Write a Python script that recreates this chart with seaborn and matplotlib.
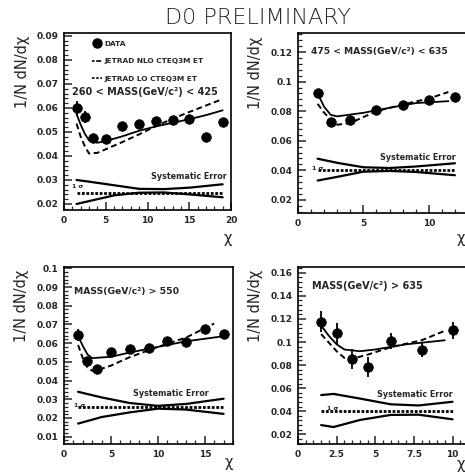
import matplotlib
matplotlib.use("Agg")
import matplotlib.pyplot as plt
from matplotlib.lines import Line2D
from matplotlib.ticker import MultipleLocator
import seaborn as sns
import pandas as pd

sns.set_style("ticks")
plt.rcParams['font.family'] = ['DejaVu Sans']

TITLE = "D0 PRELIMINARY"
YLABEL = "1/N dN/dχ"
XLABEL = "χ"
SYS_TEXT = "Systematic Error"
SIGMA_TEXT = "1 σ"
LEG_LABELS = ["DATA", "JETRAD NLO CTEQ3M ET", "JETRAD LO CTEQ3M ET"]

# ---------------- Panel 1: 260 < M < 425
p1_label = "260 < MASS(GeV/c²) < 425"
p1_chi = [1.5, 2.5, 3.5, 5, 7, 9, 11, 13, 15, 17, 19]
p1_y = [0.0600, 0.0564, 0.0474, 0.0470, 0.0525, 0.0533, 0.0547, 0.0549, 0.0553, 0.0481, 0.0541]
p1_err = [0.0028, 0.0025, 0.0018, 0.0012, 0.0012, 0.0012, 0.0012, 0.0012, 0.0012, 0.0012, 0.0012]
p1_nlo_x = [1.5, 2, 2.5, 3, 4, 5, 7, 9, 11, 13, 15, 17, 19]
p1_nlo_y = [0.0575, 0.0530, 0.0492, 0.0465, 0.0455, 0.0462, 0.0482, 0.0505, 0.0523, 0.0538, 0.0553, 0.0570, 0.0590]
p1_lo_x = [1.5, 2, 2.5, 3, 4, 5, 7, 9, 11, 13, 15, 17, 19]
p1_lo_y = [0.0535, 0.0480, 0.0440, 0.0410, 0.0413, 0.0428, 0.0458, 0.0490, 0.0524, 0.0555, 0.0583, 0.0610, 0.0637]
p1_sys_x = [1.5, 3, 6, 9, 12, 15, 19]
p1_sys_up = [0.0300, 0.0293, 0.0278, 0.0263, 0.0262, 0.0268, 0.0282]
p1_sys_lo = [0.0200, 0.0212, 0.0236, 0.0247, 0.0248, 0.0240, 0.0228]
p1_sys_c = 0.0247

# ---------------- Panel 2: 475 < M < 635
p2_label = "475 < MASS(GeV/c²) < 635"
p2_chi = [1.5, 2.5, 4, 6, 8, 10, 12]
p2_y = [0.0925, 0.0730, 0.0743, 0.0805, 0.0840, 0.0877, 0.0895]
p2_err = [0.0015, 0.0012, 0.0012, 0.0012, 0.0012, 0.0012, 0.0012]
p2_nlo_x = [1.5, 2, 2.5, 3, 5, 7, 9, 11.5]
p2_nlo_y = [0.0920, 0.0830, 0.0775, 0.0765, 0.0789, 0.0823, 0.0855, 0.0868]
p2_lo_x = [1.5, 2, 2.5, 3, 4, 6, 8, 10, 11.5]
p2_lo_y = [0.0850, 0.0790, 0.0743, 0.0708, 0.0720, 0.0800, 0.0845, 0.0886, 0.0930]
p2_sys_x = [1.5, 3, 5, 7, 9, 12]
p2_sys_up = [0.0478, 0.0450, 0.0420, 0.0415, 0.0425, 0.0447]
p2_sys_lo = [0.0330, 0.0355, 0.0390, 0.0395, 0.0388, 0.0366]
p2_sys_c = 0.0400

# ---------------- Panel 3: M > 550
p3_label = "MASS(GeV/c²) > 550"
p3_chi = [1.5, 2.5, 3.5, 5, 7, 9, 11, 13, 15, 17]
p3_y = [0.0644, 0.0504, 0.0462, 0.0551, 0.0569, 0.0572, 0.0611, 0.0604, 0.0674, 0.0649]
p3_err = [0.0030, 0.0022, 0.0020, 0.0015, 0.0015, 0.0015, 0.0015, 0.0015, 0.0015, 0.0015]
p3_nlo_x = [1.5, 2, 2.5, 3, 5, 7, 10, 13, 17]
p3_nlo_y = [0.0640, 0.0585, 0.0540, 0.0520, 0.0527, 0.0550, 0.0580, 0.0610, 0.0637]
p3_lo_x = [1.5, 2, 2.5, 3, 3.5, 5, 7, 10, 13, 16]
p3_lo_y = [0.0590, 0.0520, 0.0470, 0.0452, 0.0455, 0.0480, 0.0525, 0.0580, 0.0630, 0.0705]
p3_sys_x = [1.5, 4, 7, 10, 13, 17]
p3_sys_up = [0.0340, 0.0310, 0.0280, 0.0265, 0.0275, 0.0303]
p3_sys_lo = [0.0170, 0.0205, 0.0230, 0.0250, 0.0245, 0.0222]
p3_sys_c = 0.0257

# ---------------- Panel 4: M > 635
p4_label = "MASS(GeV/c²) > 635"
p4_chi = [1.5, 2.5, 3.5, 4.5, 6, 8, 10]
p4_y = [0.1177, 0.1075, 0.0852, 0.0785, 0.1006, 0.0930, 0.1100]
p4_err = [0.0090, 0.0090, 0.0090, 0.0085, 0.0070, 0.0060, 0.0070]
p4_nlo_x = [1.5, 2, 2.5, 3, 4, 5, 7, 9.5]
p4_nlo_y = [0.1141, 0.1053, 0.0980, 0.0935, 0.0920, 0.0935, 0.0980, 0.1015]
p4_lo_x = [1.5, 2, 2.5, 3, 3.5, 4.5, 6, 8, 9.5]
p4_lo_y = [0.1068, 0.0994, 0.0920, 0.0862, 0.0855, 0.0890, 0.0955, 0.1015, 0.1097]
p4_sys_x = [1.5, 2.3, 4, 6, 7.8, 10]
p4_sys_up = [0.0540, 0.0550, 0.0510, 0.0460, 0.0450, 0.0482]
p4_sys_lo = [0.0280, 0.0263, 0.0324, 0.0368, 0.0370, 0.0330]
p4_sys_c = 0.0405

W, H = 465, 472
fig = plt.figure(figsize=(W / 100, H / 100), dpi=100)


def box(l, t, r, b):
    return [l / W, 1 - b / H, (r - l) / W, (b - t) / H]


panels = [
    dict(rect=box(64, 33, 231, 210), xlim=(0, 20), ylim=(0.0175, 0.0912), xmaj=5, xmin=1,
         ymaj=0.01, ymin=0.002, chi=p1_chi, y=p1_y, err=p1_err, nlo=(p1_nlo_x, p1_nlo_y),
         lo=(p1_lo_x, p1_lo_y), sys=(p1_sys_x, p1_sys_up, p1_sys_lo, p1_sys_c), label=p1_label,
         label_xy=(0.045, 0.665), label_fs=7.0, sys_xy=(0.976, 0.19), sig_xy=(0.05, 0.135),
         legend=True, yfmt="{:.2f}"),
    dict(rect=box(298, 33, 468, 213), xlim=(0, 13), ylim=(0.011, 0.133), xmaj=5, xmin=1,
         ymaj=0.02, ymin=0.004, chi=p2_chi, y=p2_y, err=p2_err, nlo=(p2_nlo_x, p2_nlo_y),
         lo=(p2_lo_x, p2_lo_y), sys=(p2_sys_x, p2_sys_up, p2_sys_lo, p2_sys_c), label=p2_label,
         label_xy=(0.075, 0.895), label_fs=6.6, sys_xy=(0.93, 0.31), sig_xy=(0.08, 0.25),
         legend=False, yfmt="{:g}"),
    dict(rect=box(64, 267, 233, 444), xlim=(0, 18), ylim=(0.0061, 0.1007), xmaj=5, xmin=1,
         ymaj=0.01, ymin=0.002, chi=p3_chi, y=p3_y, err=p3_err, nlo=(p3_nlo_x, p3_nlo_y),
         lo=(p3_lo_x, p3_lo_y), sys=(p3_sys_x, p3_sys_up, p3_sys_lo, p3_sys_c), label=p3_label,
         label_xy=(0.06, 0.86), label_fs=6.7, sys_xy=(0.855, 0.285), sig_xy=(0.06, 0.22),
         legend=False, yfmt="{:g}"),
    dict(rect=box(298, 267, 468, 444), xlim=(0, 11), ylim=(0.0116, 0.165), xmaj=2.5, xmin=0.5,
         ymaj=0.02, ymin=0.004, chi=p4_chi, y=p4_y, err=p4_err, nlo=(p4_nlo_x, p4_nlo_y),
         lo=(p4_lo_x, p4_lo_y), sys=(p4_sys_x, p4_sys_up, p4_sys_lo, p4_sys_c), label=p4_label,
         label_xy=(0.08, 0.895), label_fs=7.0, sys_xy=(0.91, 0.277), sig_xy=(0.17, 0.2),
         legend=False, yfmt="{:g}"),
]

TF = dict(family="DejaVu Sans", weight="bold")

for p in panels:
    ax = fig.add_axes(p["rect"])
    x0, x1 = p["xlim"]
    sx, up, lo, c = p["sys"]
    sns.lineplot(x=sx, y=up, ax=ax, color="black", lw=1.6, sort=False)
    sns.lineplot(x=sx, y=lo, ax=ax, color="black", lw=1.6, sort=False)
    sns.lineplot(x=[sx[0], sx[-1]], y=[c, c], ax=ax, color="black", lw=2.0,
                 linestyle=(0, (1, 0.6)), sort=False)
    sns.lineplot(x=p["nlo"][0], y=p["nlo"][1], ax=ax, color="black", lw=1.3, sort=False)
    sns.lineplot(x=p["lo"][0], y=p["lo"][1], ax=ax, color="black", lw=1.4,
                 linestyle=(0, (3, 1.8)), sort=False)
    ax.errorbar(p["chi"], p["y"], yerr=p["err"], fmt="none", ecolor="black", elinewidth=1.3)
    sns.scatterplot(x=p["chi"], y=p["y"], ax=ax, color="black", s=48, edgecolor="black",
                    linewidth=0.5, zorder=5)

    ax.set_xlim(x0, x1)
    ax.set_ylim(*p["ylim"])
    ax.xaxis.set_major_locator(MultipleLocator(p["xmaj"]))
    ax.xaxis.set_minor_locator(MultipleLocator(p["xmin"]))
    ax.yaxis.set_major_locator(MultipleLocator(p["ymaj"]))
    ax.yaxis.set_minor_locator(MultipleLocator(p["ymin"]))
    ax.tick_params(which="both", direction="in", top=False, right=False, labelsize=6.5,
                   pad=4)
    ax.tick_params(which="major", length=6, width=1.1)
    ax.tick_params(which="minor", length=3, width=0.9)
    fmt = p["yfmt"]
    ax.yaxis.set_major_formatter(matplotlib.ticker.FuncFormatter(
        lambda v, pos, f=fmt: f.format(round(v, 3))))
    ax.xaxis.set_major_formatter(matplotlib.ticker.FuncFormatter(
        lambda v, pos: "{:g}".format(v)))
    for lab in ax.get_xticklabels() + ax.get_yticklabels():
        lab.set_fontweight("bold")
    for s in ax.spines.values():
        s.set_linewidth(1.2)
        s.set_color("black")
    ax.set_xlabel("")
    ax.set_ylabel(YLABEL, fontsize=10.5)
    ax.yaxis.set_label_coords(-0.205, 0.78)

    ax.text(*p["label_xy"], p["label"], transform=ax.transAxes, ha="left", va="center",
            size=p["label_fs"], **TF)
    ax.text(*p["sys_xy"], SYS_TEXT, transform=ax.transAxes, ha="right", va="center",
            size=5.8, **TF)
    ax.text(*p["sig_xy"], SIGMA_TEXT, transform=ax.transAxes, ha="left", va="center",
            size=4.5, **TF)

    if p["legend"]:
        handles = [
            Line2D([], [], marker="o", color="black", ls="none", markersize=6.5),
            Line2D([], [], color="black", lw=1.2, ls=(0, (1.5, 1, 3, 1))),
            Line2D([], [], color="black", lw=1.2, ls=(0, (1.5, 1))),
        ]
        ax.legend(handles, LEG_LABELS, loc="upper left", bbox_to_anchor=(0.13, 0.995),
                  frameon=False, handlelength=1.3, handletextpad=0.3,
                  labelspacing=1.55, prop=dict(family="DejaVu Sans", weight="bold",
                                               size=5.3))

# x-axis labels "χ"
XL = dict(ha="center", va="center", fontsize=10.5)
fig.text(228 / W, 1 - 239 / H, XLABEL, **XL)
fig.text(461 / W, 1 - 239 / H, XLABEL, **XL)
fig.text(229 / W, 1 - 463 / H, XLABEL, **XL)
fig.text(461 / W, 1 - 465 / H, XLABEL, **XL)

fig.text(258 / W, 1 - 18 / H, TITLE, ha="center", va="center", fontsize=16,
         fontweight="light")

fig.savefig("out.png", dpi=100)
